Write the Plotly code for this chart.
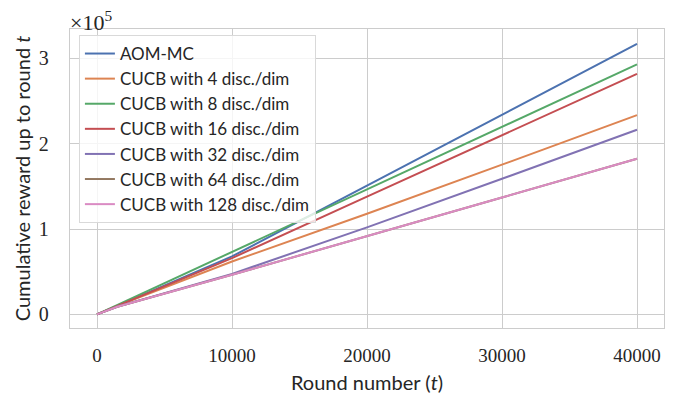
import plotly.graph_objects as go

rounds = [0, 1500, 10000, 20000, 30000, 40000]
series_names = [
    "AOM-MC",
    "CUCB with 4 disc./dim",
    "CUCB with 8 disc./dim",
    "CUCB with 16 disc./dim",
    "CUCB with 32 disc./dim",
    "CUCB with 64 disc./dim",
    "CUCB with 128 disc./dim",
]
aom_mc = [0, 10000, 68000, 151000, 234000, 317000]
cucb_4 = [0, 10000, 62000, 118000, 175500, 233500]
cucb_8 = [0, 11000, 73000, 146000, 219500, 293000]
cucb_16 = [0, 10000, 66000, 138000, 210000, 282000]
cucb_32 = [0, 9000, 47500, 102000, 159000, 216500]
cucb_64 = [0, 9000, 46500, 91500, 137000, 182500]
cucb_128 = [0, 9000, 46500, 91500, 137000, 182500]
series_values = [aom_mc, cucb_4, cucb_8, cucb_16, cucb_32, cucb_64, cucb_128]
colors = ["#4C72B0", "#DD8452", "#55A868", "#C44E52", "#8172B3", "#937860", "#DA8BC3"]

x_ticks = [0, 10000, 20000, 30000, 40000]
x_tick_labels = ["0", "10000", "20000", "30000", "40000"]
y_ticks = [0, 100000, 200000, 300000]
y_tick_labels = ["0", "1", "2", "3"]

fig = go.Figure()
for name, vals, c in zip(series_names, series_values, colors):
    fig.add_trace(go.Scatter(x=rounds, y=vals, mode="lines", name=name,
                             line=dict(color=c, width=2)))

serif = "Liberation Serif, DejaVu Serif, serif"
sans = "Lato, DejaVu Sans, sans-serif"
grid = "#cccccc"

fig.update_layout(
    width=681, height=393,
    margin=dict(l=62, r=25, t=21, b=73, autoexpand=False),
    paper_bgcolor="white", plot_bgcolor="white",
    showlegend=True,
    legend=dict(x=0.015, y=0.98, xanchor="left", yanchor="top",
                bgcolor="rgba(255,255,255,0.8)", bordercolor="#d9d9d9", borderwidth=1,
                font=dict(family=sans, size=17, color="#262626"),
                itemwidth=30, tracegroupgap=0),
    xaxis=dict(range=[-2000, 42000], tickvals=x_ticks, ticktext=x_tick_labels,
               showgrid=True, gridcolor=grid, gridwidth=1.3,
               showline=True, linecolor=grid, linewidth=1.3, mirror=True,
               zeroline=False, ticks="", automargin=False, ticklabelstandoff=10,
               tickfont=dict(family=serif, size=19, color="#262626"),
               title=dict(text="Round number (<i>t</i>)", standoff=11,
                          font=dict(family=sans, size=20, color="#262626"))),
    yaxis=dict(range=[-15900, 334500], tickvals=y_ticks, ticktext=y_tick_labels,
               showgrid=True, gridcolor=grid, gridwidth=1.3,
               showline=True, linecolor=grid, linewidth=1.3, mirror=True,
               zeroline=False, ticks="", ticklabelstandoff=16, automargin=False,
               tickfont=dict(family=serif, size=20, color="#262626"),
               title=dict(text="Cumulative reward up to round <i>t</i>", standoff=2,
                          font=dict(family=sans, size=20, color="#262626"))),
)
fig.add_annotation(xref="paper", yref="paper", x=0, y=1, xanchor="left", yanchor="bottom",
                   xshift=-2, yshift=-8, showarrow=False,
                   text="×10<sup>5</sup>", font=dict(family=serif, size=22, color="#262626"))

fig.write_html("out.html")
